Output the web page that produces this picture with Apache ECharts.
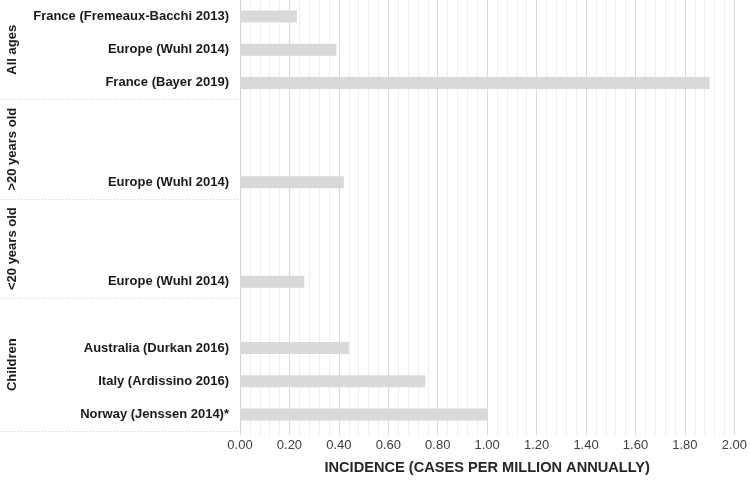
<!DOCTYPE html>
<html>
<head>
<meta charset="utf-8">
<script src="https://cdn.jsdelivr.net/npm/echarts@6/dist/echarts.min.js"></script>
<style>html,body{margin:0;padding:0;background:#fff}#c{width:750px;height:480px}</style>
</head>
<body>
<div id="c"></div>
<script>
const categories = [
  'France (Fremeaux-Bacchi 2013)', 'Europe (Wuhl 2014)', 'France (Bayer 2019)',
  '', '', 'Europe (Wuhl 2014)',
  '', '', 'Europe (Wuhl 2014)',
  '', 'Australia (Durkan 2016)', 'Italy (Ardissino 2016)', 'Norway (Jenssen 2014)*'
];
const incidence = [0.23, 0.39, 1.90, '-', '-', 0.42, '-', '-', 0.26, '-', 0.44, 0.75, 1.00];
const groups = ['All ages', '>20 years old', '<20 years old', 'Children'];
const groupStart = [0, 3, 6, 9];
const groupEnd = [2, 5, 8, 12];
const xTicks = [0, 0.2, 0.4, 0.6, 0.8, 1.0, 1.2, 1.4, 1.6, 1.8, 2.0];
const xTitle = 'INCIDENCE (CASES PER MILLION ANNUALLY)';

const FONT = '"Liberation Sans", Arial, sans-serif';
const chart = echarts.init(document.getElementById('c'), null, {renderer: 'canvas'});
const option = {
  animation: false,
  grid: {left: 240, right: 13, top: 0, bottom: 48, containLabel: false},
  xAxis: {
    type: 'value', min: xTicks[0], max: xTicks[xTicks.length - 1], interval: 0.2,
    name: xTitle, nameLocation: 'middle', nameGap: 29,
    nameTextStyle: {fontFamily: FONT, fontWeight: 'bold', fontSize: 14.6, color: '#262626'},
    axisLine: {show: false},
    axisTick: {show: true, length: 4, lineStyle: {color: '#d9d9d9'}},
    minorTick: {show: true, splitNumber: 5, length: 4, lineStyle: {color: '#eeeeee'}},
    splitLine: {show: true, lineStyle: {color: '#d9d9d9', width: 1}},
    minorSplitLine: {show: true, lineStyle: {color: '#eeeeee', width: 1}},
    axisLabel: {fontFamily: FONT, fontSize: 13, color: '#404040', margin: 8,
      formatter: v => v.toFixed(2)}
  },
  yAxis: {
    type: 'category', inverse: true, data: categories,
    axisLine: {show: true, lineStyle: {color: '#d0d0d0', type: 'dotted'}},
    axisTick: {show: false},
    axisLabel: {fontFamily: FONT, fontSize: 13, fontWeight: 'bold', color: '#1a1a1a', margin: 11}
  },
  series: [{
    type: 'bar', data: incidence, barWidth: 12,
    itemStyle: {color: '#d9d9d9'}
  }]
};
chart.setOption(option);

// group annotations, positioned from the category axis
const graphics = [];
const half = (chart.convertToPixel({yAxisIndex: 0}, 1) - chart.convertToPixel({yAxisIndex: 0}, 0)) / 2;
for (let g = 0; g < groups.length; g++) {
  const y0 = chart.convertToPixel({yAxisIndex: 0}, groupStart[g]) - half;
  const y1 = chart.convertToPixel({yAxisIndex: 0}, groupEnd[g]) + half;
  graphics.push({
    type: 'text', x: 12, y: (y0 + y1) / 2, rotation: Math.PI / 2,
    style: {text: groups[g], font: 'bold 13px ' + FONT, fill: '#1a1a1a',
      textAlign: 'center', textVerticalAlign: 'middle'}
  });
  graphics.push({
    type: 'line', shape: {x1: 0, y1: Math.round(y1) + 0.5, x2: 240, y2: Math.round(y1) + 0.5},
    style: {stroke: '#d0d0d0', lineWidth: 1, lineDash: [1, 2]}
  });
}
chart.setOption({graphic: graphics});
</script>
</body>
</html>
